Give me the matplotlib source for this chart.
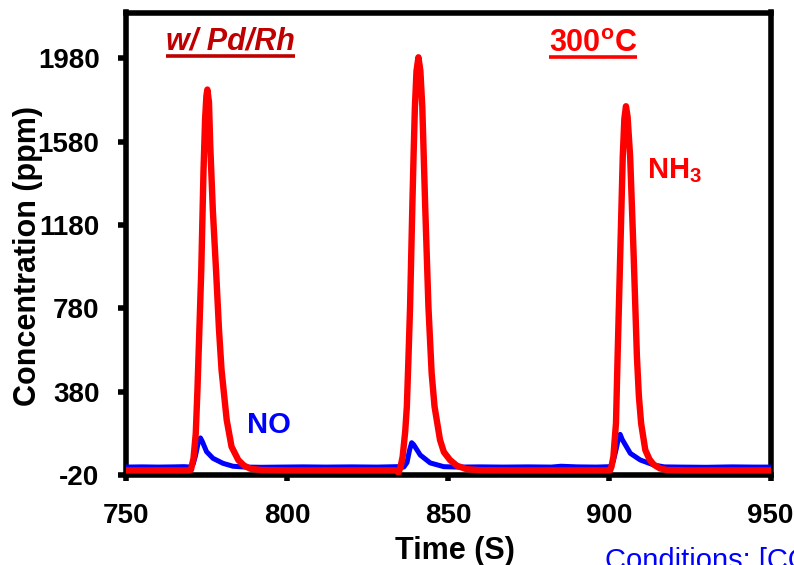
import matplotlib
matplotlib.use("Agg")
import matplotlib.pyplot as plt
from matplotlib.lines import Line2D

plt.rcParams['font.family'] = ['Liberation Sans', 'DejaVu Sans']
plt.rcParams['mathtext.fontset'] = 'custom'
plt.rcParams['mathtext.rm'] = 'Liberation Sans:bold'
plt.rcParams['mathtext.bf'] = 'Liberation Sans:bold'
plt.rcParams['mathtext.it'] = 'Liberation Sans:bold:italic'
plt.rcParams['axes.unicode_minus'] = False

# NH3 trace (ppm) over three pulses
time_nh3 = [750, 755, 760, 765, 769.5,
            770.15, 770.95, 771.65, 772.15, 772.65,
            773.35, 774.05, 774.55, 774.95, 775.25,
            775.75, 776.15, 776.95, 777.95, 778.85,
            779.65, 781.25, 782.75, 784.85, 786.65,
            788.65, 792, 800, 810, 820,
            830, 833.65, 834.55, 835.15, 835.85,
            836.65, 837.15, 837.65, 838.15, 838.85,
            839.25, 839.65, 840.15, 840.75, 841.35,
            841.95, 842.85, 843.85, 844.85, 845.75,
            847.45, 848.65, 850.55, 852.65, 855.65,
            860, 870, 880, 890, 899.5,
            900.25, 900.65, 901.25, 901.65, 902.05,
            902.55, 903.35, 904.15, 904.65, 905.15,
            905.65, 906.45, 907.55, 908.55, 909.15,
            909.85, 911.15, 912.45, 913.75, 915.65,
            917.85, 925, 935, 950]
nh3_ppm = [2, 2, 2, 2, 2,
           5, 60, 180, 380, 620,
           960, 1440, 1690, 1800, 1830,
           1770, 1560, 1250, 960, 680,
           484, 244, 116, 52, 25,
           10, 4, 2, 2, 2,
           2, 2, -8, 15, 68,
           190, 308, 540, 787, 1267,
           1520, 1746, 1920, 1985, 1920,
           1746, 1267, 787, 468, 308,
           148, 90, 52, 25, 8,
           3, 2, 2, 2, 2,
           3, 20, 68, 150, 228,
           547, 1027, 1507, 1690, 1750,
           1700, 1507, 1027, 547, 360,
           228, 100, 55, 30, 12,
           4, 2, 2, 2]

# NO trace (ppm)
time_no = [750, 755, 760, 765, 768,
           770.2, 770.9, 771.6, 772.4, 773.1,
           773.7, 775.0, 777.0, 780.1, 783.2,
           787, 792, 798, 805, 812,
           820, 828, 834, 836.2, 837.2,
           838.0, 838.65, 839.3, 841.3, 844.4,
           848.6, 853, 860, 867, 875,
           882, 885, 890, 896, 900.3,
           901.2, 902.2, 902.9, 903.35, 904.0,
           906.5, 909.6, 913.8, 917, 922,
           930, 938, 945, 950]
no_ppm = [18, 19, 18, 19, 20,
          18, 35, 75, 135, 158,
          140, 92, 60, 36, 22,
          18, 17, 18, 19, 18,
          19, 18, 20, 18, 40,
          100, 135, 125, 76, 38,
          20, 18, 19, 18, 19,
          18, 22, 19, 18, 20,
          45, 110, 165, 175, 150,
          84, 52, 28, 19, 18,
          17, 19, 18, 18]

x_ticks = [750, 800, 850, 900, 950]
y_ticks = [-20, 380, 780, 1180, 1580, 1980]

W, H = 794, 565
fig = plt.figure(figsize=(W / 100, H / 100), dpi=100)
ax = fig.add_axes([126 / W, 1 - 475 / H, (770.5 - 126) / W, (475 - 12.5) / H])

ax.plot(time_no, no_ppm, color='#0000FF', lw=3.6,
        solid_joinstyle='round', solid_capstyle='round', zorder=3)
ax.plot(time_nh3, nh3_ppm, color='#FF0000', lw=4.6,
        solid_joinstyle='round', solid_capstyle='round', zorder=4)

ax.set_xlim(750, 950)
ax.set_ylim(-20, 2200)
ax.set_xticks(x_ticks)
ax.set_xticklabels([str(v) for v in x_ticks])
ax.set_yticks(y_ticks)
ax.set_yticklabels([str(v) for v in y_ticks])

for s in ax.spines.values():
    s.set_linewidth(4)
    s.set_color('black')

ax.tick_params(axis='both', direction='out', width=4, labelsize=20, colors='black')
ax.tick_params(axis='y', length=5.5, pad=13.5)
ax.tick_params(axis='x', length=4, pad=16)
for lab in ax.get_xticklabels() + ax.get_yticklabels():
    lab.set_fontweight('bold')


def fx(px):
    return px / W


def fy(py):
    return 1 - py / H


# axis titles
fig.text(fx(28), fy(256), 'Concentration (ppm)', rotation=90, ha='center', va='center',
         fontsize=22, fontweight='bold')
fig.text(fx(455), fy(559), 'Time (S)', ha='center', va='baseline',
         fontsize=22, fontweight='bold')

# annotations
t_cat = fig.text(fx(166), fy(50), 'w/ Pd/Rh', ha='left', va='baseline', fontsize=22,
                 fontweight='bold', style='italic', color='#C00000')
t_temp = fig.text(fx(549), fy(51.7), r'$\mathbf{300^{o}C}$', ha='left', va='baseline',
                  fontsize=22, color='#FF0000')
fig.text(fx(646.7), fy(178.3), r'$\mathbf{NH_3}$', ha='left', va='baseline',
         fontsize=21, color='#FF0000')
fig.text(fx(246.7), fy(433.3), 'NO', ha='left', va='baseline',
         fontsize=21, fontweight='bold', color='#0000FF')
fig.text(fx(605), fy(569), 'Conditions: [CO] = 1000 ppm', ha='left', va='baseline',
         fontsize=21, color='#0000FF')

# underline the two headline labels
fig.canvas.draw()
renderer = fig.canvas.get_renderer()
for txt, under_y, color in [(t_cat, 55.5, '#C00000'), (t_temp, 57.3, '#FF0000')]:
    bb = txt.get_window_extent(renderer)
    fig.add_artist(Line2D([bb.x0 / W, bb.x1 / W], [fy(under_y), fy(under_y)],
                          transform=fig.transFigure, color=color, lw=2.6,
                          solid_capstyle='butt'))

fig.savefig('out.png', dpi=100)
